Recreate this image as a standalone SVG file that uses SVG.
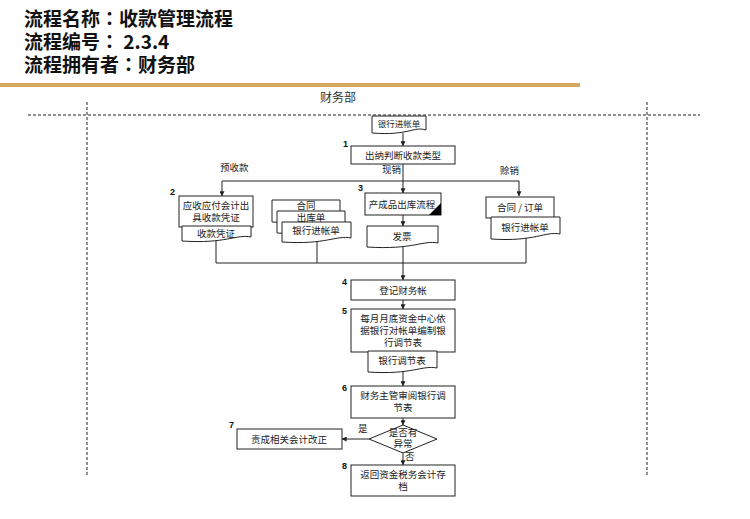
<svg xmlns="http://www.w3.org/2000/svg" width="750" height="519" viewBox="0 0 750 519">
<defs>
<marker id="ah" viewBox="0 0 8 8" refX="7.5" refY="4" markerWidth="5" markerHeight="5" orient="auto" markerUnits="userSpaceOnUse">
<path d="M0,0 L8,4 L0,8 Z" fill="#222"/>
</marker>
<style>
.title{font-family:"Noto Sans CJK SC","Liberation Sans",sans-serif;font-weight:bold;font-size:19px;fill:#111}
.colon{font-family:"Noto Sans CJK JP",sans-serif}
.t{font-family:"Noto Sans CJK SC","Liberation Sans",sans-serif;font-size:9.5px;fill:#222;text-anchor:middle}
.ts{font-family:"Noto Sans CJK SC","Liberation Sans",sans-serif;font-size:8.5px;fill:#222;text-anchor:middle}
.lab{font-family:"Noto Sans CJK SC","Liberation Sans",sans-serif;font-size:9.5px;fill:#222}
.num{font-family:"Liberation Sans",sans-serif;font-weight:bold;font-size:9px;fill:#111}
.box{fill:#fff;stroke:#222;stroke-width:1}
.ln{fill:none;stroke:#222;stroke-width:1}
.arr{fill:none;stroke:#222;stroke-width:1;marker-end:url(#ah)}
.dash{fill:none;stroke:#222;stroke-width:1;stroke-dasharray:3,2}
</style>
</defs>
<rect width="750" height="519" fill="#fff"/>
<g id="header">
<text class="title" x="24" y="26">流程名称<tspan class="colon">：</tspan>收款管理流程</text>
<text class="title" x="24" y="49">流程编号<tspan class="colon">：</tspan> 2.3.4</text>
<text class="title" x="24" y="72">流程拥有者<tspan class="colon">：</tspan>财务部</text>
<rect x="0" y="83" width="580" height="4" fill="#D6A85E"/>
</g>
<g id="lanes">
<text x="338" y="102" font-family="Noto Sans CJK SC, sans-serif" font-size="12" fill="#333" text-anchor="middle">财务部</text>
<line class="dash" x1="28" y1="115" x2="700" y2="115"/>
<line class="dash" x1="87" y1="102" x2="87" y2="477" stroke-width="1.5"/>
<line class="dash" x1="647" y1="102" x2="647" y2="477"/>
</g>
<g id="connectors">
<line class="arr" x1="403" y1="133" x2="403" y2="146"/>
<line class="ln" x1="403" y1="164" x2="403" y2="181"/>
<polyline class="arr" points="519,181 222,181 222,196"/>
<polyline class="arr" points="519,181 519,196"/>
<line class="arr" x1="403" y1="181" x2="403" y2="193"/>
<line class="arr" x1="403" y1="215" x2="403" y2="226"/>
<line class="ln" x1="216" y1="240" x2="216" y2="263"/>
<line class="ln" x1="317" y1="241" x2="317" y2="263"/>
<line class="ln" x1="526" y1="238" x2="526" y2="263"/>
<line class="ln" x1="216" y1="263" x2="526" y2="263"/>
<line class="arr" x1="403" y1="247" x2="403" y2="280"/>
<line class="arr" x1="403" y1="300" x2="403" y2="309"/>
<line class="arr" x1="403" y1="372" x2="403" y2="386"/>
<line class="arr" x1="403" y1="418" x2="403" y2="425"/>
<line class="arr" x1="369" y1="439" x2="342" y2="439"/>
<line class="arr" x1="403" y1="453" x2="403" y2="465"/>
<text class="lab" x="220" y="171">预收款</text>
<text class="lab" x="382" y="173">现销</text>
<text class="lab" x="500" y="174">赊销</text>
<text class="lab" x="358" y="432">是</text>
<text class="lab" x="405" y="460">否</text>
</g>
<g id="doc-top">
<path class="box" d="M372,116 H426 V130 C414,126 408,136 372,133 Z"/>
<text class="ts" x="399" y="127">银行进帐单</text>
</g>
<g id="step1">
<text class="num" x="343" y="147">1</text>
<rect class="box" x="351" y="146" width="104" height="18"/>
<text class="t" x="403" y="158.5">出纳判断收款类型</text>
</g>
<g id="step2">
<text class="num" x="170" y="195">2</text>
<rect class="box" x="179" y="196" width="74" height="31"/>
<text class="t" x="216" y="209">应收应付会计出</text>
<text class="t" x="216" y="221">具收款凭证</text>
<path class="box" d="M182,226 H251 V237 C236,234 226,244 182,241 Z"/>
<text class="t" x="216" y="236.5">收款凭证</text>
</g>
<g id="docs-stack">
<path class="box" d="M272,200 H340 V218 C325,215 315,225 272,222 Z"/>
<text class="t" x="306" y="209">合同</text>
<path class="box" d="M277,211 H345 V229 C330,226 320,236 277,233 Z"/>
<text class="t" x="311" y="220.5">出库单</text>
<path class="box" d="M282,222 H351 V238 C336,235 326,245 282,242 Z"/>
<text class="t" x="316" y="233.5">银行进帐单</text>
</g>
<g id="step3">
<text class="num" x="358" y="191">3</text>
<rect class="box" x="365" y="193" width="76" height="22"/>
<text class="t" x="402" y="207.5">产成品出库流程</text>
<path d="M441,203 L441,215 L429,215 Z" fill="#000"/>
<path class="box" d="M367,226 H438 V243 C423,240 413,250 367,247 Z"/>
<text class="t" x="402" y="240">发票</text>
</g>
<g id="credit">
<rect class="box" x="486" y="197" width="68" height="21"/>
<text class="t" x="520" y="211">合同 / 订单</text>
<path class="box" d="M491,217 H560 V234 C545,231 535,242 491,239 Z"/>
<text class="t" x="525" y="230.5">银行进帐单</text>
</g>
<g id="step4">
<text class="num" x="342" y="285">4</text>
<rect class="box" x="351" y="280" width="104" height="20"/>
<text class="t" x="403" y="293.5">登记财务帐</text>
</g>
<g id="step5">
<text class="num" x="342" y="314">5</text>
<rect class="box" x="351" y="309" width="104" height="43"/>
<text class="t" x="403" y="322">每月月底资金中心依</text>
<text class="t" x="403" y="334">据银行对帐单编制银</text>
<text class="t" x="403" y="346">行调节表</text>
<path class="box" d="M368,351 H437 V368 C422,365 412,375 368,372 Z"/>
<text class="t" x="402" y="364">银行调节表</text>
</g>
<g id="step6">
<text class="num" x="342" y="391">6</text>
<rect class="box" x="351" y="386" width="104" height="32"/>
<text class="t" x="403" y="399">财务主管审阅银行调</text>
<text class="t" x="403" y="411">节表</text>
</g>
<g id="decision">
<path class="box" d="M403,425 L437,439 L403,453 L369,439 Z"/>
<text class="t" x="403" y="435.5">是否有</text>
<text class="t" x="403" y="447">异常</text>
</g>
<g id="step7">
<text class="num" x="229" y="428">7</text>
<rect class="box" x="237" y="429" width="105" height="20"/>
<text class="t" x="289" y="442.5">责成相关会计改正</text>
</g>
<g id="step8">
<text class="num" x="342" y="469">8</text>
<rect class="box" x="351" y="465" width="104" height="31"/>
<text class="t" x="403" y="478">返回资金税务会计存</text>
<text class="t" x="403" y="490">档</text>
</g>
</svg>
